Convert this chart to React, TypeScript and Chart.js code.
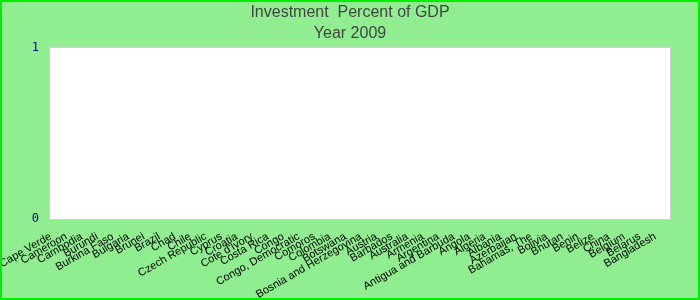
import React, { useEffect, useRef } from "react";
import { Chart, registerables } from "chart.js";

Chart.register(...registerables);

const categories: string[] = [
  "Cape Verde", "Cameroon", "Cambodia", "Burundi", "Burkina Faso", "Bulgaria", "Brunei", "Brazil",
  "Chad", "Chile", "Czech Republic", "Cyprus", "Croatia", "Cote d'Ivory", "Costa Rica", "Congo",
  "Congo, Democratic", "Comoros", "Colombia", "Botswana", "Bosnia and Herzegovina", "Austria",
  "Barbados", "Australia", "Armenia", "Argentina", "Antigua and Barbuda", "Angola", "Algeria",
  "Albania", "Azerbaijan", "Bahamas, The", "Bolivia", "Bhutan", "Benin", "Belize", "China",
  "Belgium", "Belarus", "Bangladesh",
];

const values: number[] = [
  0, 0, 0, 0, 0, 0, 0, 0, 0, 0, 0, 0, 0, 0, 0, 0, 0, 0, 0, 0,
  0, 0, 0, 0, 0, 0, 0, 0, 0, 0, 0, 0, 0, 0, 0, 0, 0, 0, 0, 0,
];

const titleLines: string[] = ["Investment  Percent of GDP", "Year 2009"];

const plotBg = {
  id: "plotBg",
  beforeDraw(chart: any) {
    const { ctx, chartArea } = chart;
    if (!chartArea) return;
    ctx.save();
    ctx.fillStyle = "#ffffff";
    ctx.fillRect(chartArea.left, chartArea.top, chartArea.right - chartArea.left, chartArea.bottom - chartArea.top);
    ctx.strokeStyle = "#cccccc";
    ctx.lineWidth = 1;
    ctx.strokeRect(chartArea.left - 0.5, chartArea.top - 0.5, chartArea.right - chartArea.left + 1, chartArea.bottom - chartArea.top + 1);
    ctx.restore();
  },
};

export default function App() {
  const ref = useRef<HTMLCanvasElement>(null);
  useEffect(() => {
    document.body.style.margin = "0";
    const chart = new Chart(ref.current!, {
      type: "bar",
      data: {
        labels: categories,
        datasets: [{ data: values, backgroundColor: "#4472c4" }],
      },
      options: {
        animation: false,
        responsive: false,
        maintainAspectRatio: false,
        layout: { padding: { left: 0, right: 0, top: 0, bottom: 0 } },
        plugins: {
          legend: { display: false },
          tooltip: { enabled: false },
          title: {
            display: true,
            text: titleLines,
            color: "#444444",
            font: { family: "Liberation Sans, Arial, sans-serif", size: 16, weight: "normal", lineHeight: 1.3 },
            padding: { top: 0, bottom: 4 },
          },
        },
        scales: {
          x: {
            grid: { display: false, drawTicks: false },
            border: { display: false },
            afterFit: (s: any) => {
              s.height = 79;
              s.paddingLeft = 0;
              s.paddingRight = 0;
            },
            ticks: {
              autoSkip: false,
              maxRotation: 30,
              minRotation: 30,
              color: "#000000",
              padding: 11,
              labelOffset: -7,
              font: { family: "Liberation Sans, Arial, sans-serif", size: 11 },
            },
          },
          y: {
            min: 0,
            max: 1,
            grid: { display: false, drawTicks: false },
            border: { display: false },
            afterFit: (s: any) => {
              s.width = 48;
            },
            ticks: {
              stepSize: 1,
              color: "#0000aa",
              padding: 11,
              font: { family: "DejaVu Sans Mono, monospace", size: 12 },
            },
          },
          y2: {
            position: "right",
            min: 0,
            max: 1,
            grid: { display: false, drawTicks: false },
            border: { display: false },
            ticks: { display: false },
            afterFit: (s: any) => {
              s.width = 28;
            },
          },
        },
      },
      plugins: [plotBg],
    });
    return () => chart.destroy();
  }, []);
  return (
    <div
      style={{
        width: 700,
        height: 300,
        boxSizing: "border-box",
        border: "2px solid #00ee00",
        background: "#90ee90",
      }}
    >
      <canvas ref={ref} width={696} height={296} style={{ display: "block" }} />
    </div>
  );
}
